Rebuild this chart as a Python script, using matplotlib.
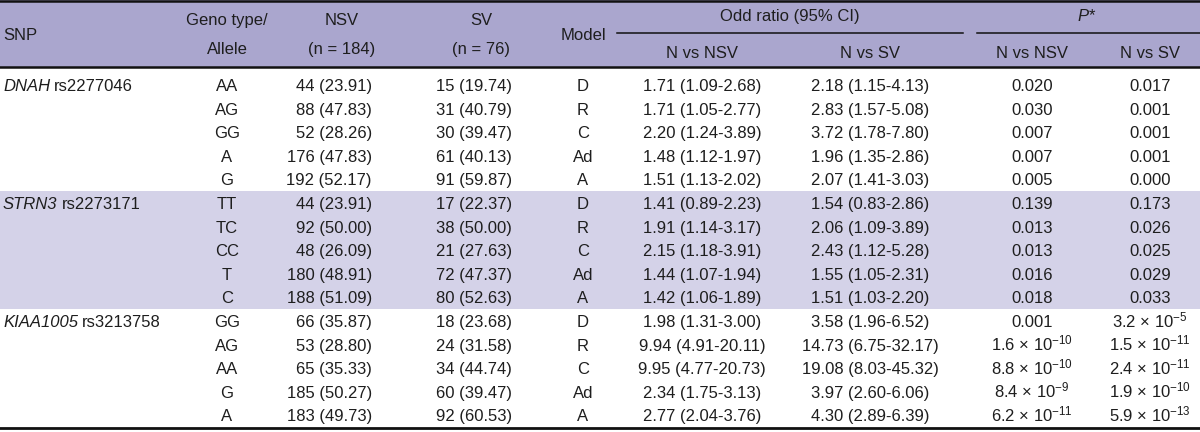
import matplotlib
matplotlib.use('Agg')
import matplotlib.pyplot as plt
from matplotlib.patches import Rectangle

plt.rcParams['font.family'] = ['Liberation Sans', 'DejaVu Sans']
plt.rcParams['mathtext.fontset'] = 'custom'
plt.rcParams['mathtext.rm'] = 'Liberation Sans'
plt.rcParams['mathtext.it'] = 'Liberation Sans:italic'

# Table contents
snp_genes = ['DNAH', 'STRN3', 'KIAA1005']
snp_ids = ['rs2277046', 'rs2273171', 'rs3213758']
genotypes = ['AA', 'AG', 'GG', 'A', 'G',
             'TT', 'TC', 'CC', 'T', 'C',
             'GG', 'AG', 'AA', 'G', 'A']
nsv = ['44 (23.91)', '88 (47.83)', '52 (28.26)', '176 (47.83)', '192 (52.17)',
       '44 (23.91)', '92 (50.00)', '48 (26.09)', '180 (48.91)', '188 (51.09)',
       '66 (35.87)', '53 (28.80)', '65 (35.33)', '185 (50.27)', '183 (49.73)']
sv = ['15 (19.74)', '31 (40.79)', '30 (39.47)', '61 (40.13)', '91 (59.87)',
      '17 (22.37)', '38 (50.00)', '21 (27.63)', '72 (47.37)', '80 (52.63)',
      '18 (23.68)', '24 (31.58)', '34 (44.74)', '60 (39.47)', '92 (60.53)']
models = ['D', 'R', 'C', 'Ad', 'A'] * 3
or_nsv = ['1.71 (1.09-2.68)', '1.71 (1.05-2.77)', '2.20 (1.24-3.89)',
          '1.48 (1.12-1.97)', '1.51 (1.13-2.02)',
          '1.41 (0.89-2.23)', '1.91 (1.14-3.17)', '2.15 (1.18-3.91)',
          '1.44 (1.07-1.94)', '1.42 (1.06-1.89)',
          '1.98 (1.31-3.00)', '9.94 (4.91-20.11)', '9.95 (4.77-20.73)',
          '2.34 (1.75-3.13)', '2.77 (2.04-3.76)']
or_sv = ['2.18 (1.15-4.13)', '2.83 (1.57-5.08)', '3.72 (1.78-7.80)',
         '1.96 (1.35-2.86)', '2.07 (1.41-3.03)',
         '1.54 (0.83-2.86)', '2.06 (1.09-3.89)', '2.43 (1.12-5.28)',
         '1.55 (1.05-2.31)', '1.51 (1.03-2.20)',
         '3.58 (1.96-6.52)', '14.73 (6.75-32.17)', '19.08 (8.03-45.32)',
         '3.97 (2.60-6.06)', '4.30 (2.89-6.39)']
p_nsv = ['0.020', '0.030', '0.007', '0.007', '0.005',
         '0.139', '0.013', '0.013', '0.016', '0.018',
         '0.001', (1.6, -10), (8.8, -10), (8.4, -9), (6.2, -11)]
p_sv = ['0.017', '0.001', '0.001', '0.001', '0.000',
        '0.173', '0.026', '0.025', '0.029', '0.033',
        (3.2, -5), (1.5, -11), (2.4, -11), (1.9, -10), (5.9, -13)]


def fmt_p(v):
    if isinstance(v, str):
        return v
    m, e = v
    return '%.1f \u00d7 10$^{\\mathregular{%d}}$' % (m, e)


W, H = 1200, 432
fig = plt.figure(figsize=(12, 4.32), dpi=100)
ax = fig.add_axes([0, 0, 1, 1])
ax.set_xlim(0, W)
ax.set_ylim(H, 0)
ax.axis('off')

header_col = '#aaa6ce'
band_col = '#d4d2e8'
txt_col = '#1e1e1e'
fs = 12
bl = 6  # baseline offset from the row centre (px)

row0, pitch = 85, 23.6
rows_y = [row0 + pitch * i for i in range(len(genotypes))]

# backgrounds
ax.add_patch(Rectangle((0, 0), W, 67, color=header_col, lw=0))
ax.add_patch(Rectangle((0, rows_y[5] - pitch / 2), W, pitch * 5,
                       color=band_col, lw=0))

# rules
ax.plot([0, W], [1, 1], color='#111111', lw=1.8)
ax.plot([0, W], [67, 67], color='#111111', lw=1.8)
ax.plot([0, W], [428, 428], color='#111111', lw=2.0)
ax.plot([617, 963], [33, 33], color='#111111', lw=1.1)
ax.plot([977, W], [33, 33], color='#111111', lw=1.1)

kw = dict(color=txt_col, fontsize=fs, va='baseline')


def cell(x, y, s, ha='center', **extra):
    return ax.text(x, y + bl, s, ha=ha, **kw, **extra)


# header
cell(3, 34, 'SNP', ha='left')
cell(227, 19, 'Geno type/')
cell(227, 48, 'Allele')
cell(342, 19, 'NSV')
cell(342, 48, '(n = 184)')
cell(481, 19, 'SV')
cell(481, 48, '(n = 76)')
cell(583, 34, 'Model')
cell(790, 15, 'Odd ratio (95% CI)')
cell(702, 52, 'N vs NSV')
cell(870, 52, 'N vs SV')
cell(1087, 15, '$\\mathit{P}$*')
cell(1032, 52, 'N vs NSV')
cell(1150, 52, 'N vs SV')

# SNP labels: italic gene name followed by the rs id
renderer = fig.canvas.get_renderer()
for k, (g, s) in enumerate(zip(snp_genes, snp_ids)):
    t = cell(3, rows_y[5 * k], g, ha='left', style='italic')
    w = t.get_window_extent(renderer).width
    cell(3 + w + 4, rows_y[5 * k], s, ha='left')

# body
for i, y in enumerate(rows_y):
    cell(227, y, genotypes[i])
    cell(372, y, nsv[i], ha='right')
    cell(512, y, sv[i], ha='right')
    cell(583, y, models[i])
    cell(702, y, or_nsv[i])
    cell(870, y, or_sv[i])
    cell(1032, y, fmt_p(p_nsv[i]))
    cell(1150, y, fmt_p(p_sv[i]))

fig.savefig('out.png', dpi=100)
